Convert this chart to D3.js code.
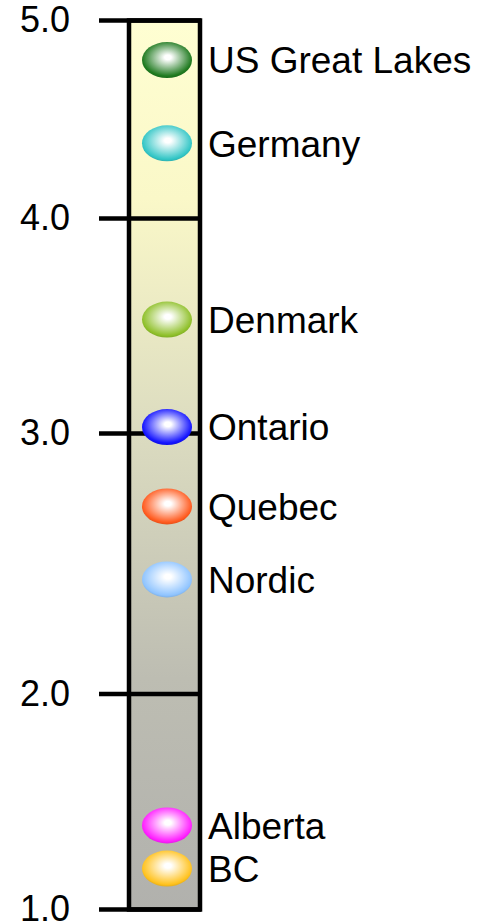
<!DOCTYPE html>
<html>
<head>
<meta charset="utf-8">
<script src="https://cdn.jsdelivr.net/npm/d3@7"></script>
<style>
  html, body { margin: 0; padding: 0; background: #fff; }
  svg { display: block; }
  text { font-family: "Liberation Sans", Arial, sans-serif; fill: #000; }
</style>
</head>
<body>
<svg id="chart" width="477" height="924"></svg>
<script>
// ---- data ----
const regions = ["US Great Lakes", "Germany", "Denmark", "Ontario", "Quebec", "Nordic", "Alberta", "BC"];
const values  = [4.8, 4.38, 3.53, 3.03, 2.72, 2.44, 1.39, 1.19];
const colors  = ["#1f7a1f", "#33c6c6", "#8fc02a", "#1414ff", "#ff5a1e", "#8fc4ff", "#ff1eff", "#ffc21e"];
const tickValues = [1, 2, 3, 4, 5];
const tickLabels = ["1.0", "2.0", "3.0", "4.0", "5.0"];

// ---- layout ----
const svg = d3.select("#chart");
const barLeft = 129, barRight = 200;
const barCenter = 167;
// the original axis is not evenly spaced; piecewise linear scale
const y = d3.scaleLinear()
  .domain([1, 2, 3, 4, 5])
  .range([909.5, 694, 433.5, 218.5, 20.5]);

const defs = svg.append("defs");
const bg = defs.append("linearGradient")
  .attr("id", "barGrad").attr("x1", 0).attr("y1", 0).attr("x2", 0).attr("y2", 1);
[[0, "#fffed2"], [0.2, "#faf8c8"], [0.46, "#dcdcc0"], [0.74, "#bdbdb2"], [1, "#b1b1ad"]]
  .forEach(([o, c]) => bg.append("stop").attr("offset", o).attr("stop-color", c));

colors.forEach((c, i) => {
  const g = defs.append("radialGradient").attr("id", "dot" + i)
    .attr("cx", "50%").attr("cy", "45%").attr("r", "55%").attr("fx", "52%").attr("fy", "42%");
  g.append("stop").attr("offset", 0).attr("stop-color", "#ffffff");
  g.append("stop").attr("offset", 0.12).attr("stop-color", "#ffffff");
  g.append("stop").attr("offset", 0.9).attr("stop-color", c);
  g.append("stop").attr("offset", 1).attr("stop-color", d3.color(c).darker(0.3));
});

// bar background
svg.append("rect")
  .attr("x", barLeft).attr("y", y(5))
  .attr("width", barRight - barLeft).attr("height", y(1) - y(5))
  .attr("fill", "url(#barGrad)");

// bar frame
svg.append("rect")
  .attr("x", barLeft).attr("y", y(5))
  .attr("width", barRight - barLeft).attr("height", y(1) - y(5))
  .attr("fill", "none").attr("stroke", "#000").attr("stroke-width", 4.5);

// ticks
svg.selectAll("line.tick").data(tickValues).join("line")
  .attr("class", "tick")
  .attr("x1", 99).attr("x2", barRight + 1)
  .attr("y1", d => y(d)).attr("y2", d => y(d))
  .attr("stroke", "#000").attr("stroke-width", 4.5);

svg.selectAll("text.tl").data(tickValues).join("text")
  .attr("class", "tl")
  .attr("x", 70).attr("y", d => y(d))
  .attr("dy", "0.32em")
  .attr("text-anchor", "end")
  .attr("font-size", 36)
  .text((d, i) => tickLabels[i]);

// dots
const pts = regions.map((r, i) => ({ r, v: values[i], i }));
svg.selectAll("ellipse.dot").data(pts).join("ellipse")
  .attr("class", "dot")
  .attr("cx", barCenter).attr("cy", d => y(d.v))
  .attr("rx", 25).attr("ry", 18)
  .attr("fill", d => `url(#dot${d.i})`);

// labels
svg.selectAll("text.lab").data(pts).join("text")
  .attr("class", "lab")
  .attr("x", 208).attr("y", d => y(d.v))
  .attr("dy", "0.36em")
  .attr("font-size", 37)
  .text(d => d.r);
</script>
</body>
</html>
